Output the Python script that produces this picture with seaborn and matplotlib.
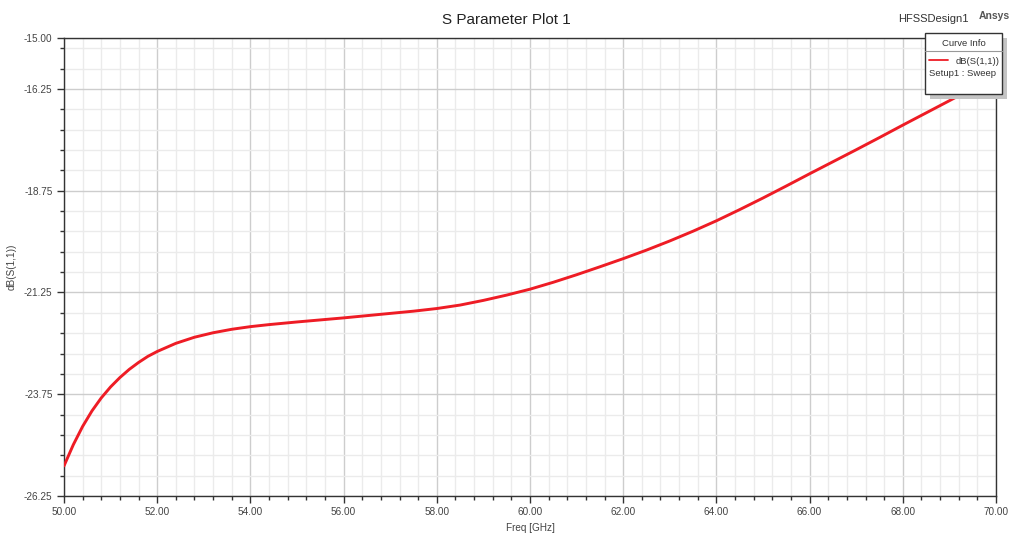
import matplotlib
matplotlib.use("Agg")
import matplotlib.pyplot as plt
import matplotlib.patches as mpatches
import matplotlib.lines as mlines
from matplotlib.ticker import FixedLocator, FormatStrFormatter
import numpy as np
import pandas as pd
import seaborn as sns

# Return loss sweep, dB(S(1,1)) versus frequency
freq_ghz = [50.0, 50.2, 50.4, 50.6, 50.8, 51.0, 51.2, 51.4, 51.6, 51.8,
            52.0, 52.4, 52.8, 53.2, 53.6, 54.0, 54.4, 55.0, 55.5, 56.0,
            56.5, 57.0, 57.5, 58.0, 58.5, 59.0, 59.5, 60.0, 60.5, 61.0,
            61.5, 62.0, 62.5, 63.0, 63.5, 64.0, 64.5, 65.0, 65.5, 66.0,
            66.5, 67.0, 67.5, 68.0, 68.5, 69.0, 69.5, 70.0]
s11_db = [-25.51, -24.99, -24.54, -24.16, -23.84, -23.57, -23.34, -23.14, -22.97, -22.82,
          -22.70, -22.50, -22.35, -22.24, -22.155, -22.09, -22.04, -21.975, -21.925, -21.875,
          -21.82, -21.765, -21.71, -21.645, -21.56, -21.445, -21.315, -21.17, -21.00, -20.815,
          -20.62, -20.42, -20.21, -19.985, -19.745, -19.49, -19.215, -18.93, -18.635, -18.335,
          -18.04, -17.745, -17.445, -17.14, -16.84, -16.54, -16.235, -15.93]

x_major = [50, 52, 54, 56, 58, 60, 62, 64, 66, 68, 70]
y_major = [-15.00, -16.25, -18.75, -21.25, -23.75, -26.25]

sns.set_theme(style="white")
plt.rcParams["font.family"] = ["Liberation Sans", "DejaVu Sans"]

fig = plt.figure(figsize=(10.11, 5.35), dpi=100)
ax = fig.add_axes([64 / 1011, 1 - 496 / 535, (996 - 64) / 1011, (496 - 38) / 535])

df = pd.DataFrame({"Freq [GHz]": freq_ghz, "dB(S(1,1))": s11_db})
sns.lineplot(data=df, x="Freq [GHz]", y="dB(S(1,1))", ax=ax,
             color="#ee1c25", linewidth=2.1, zorder=5)

ax.set_xlim(50, 70)
ax.set_ylim(-26.25, -15.0)

ax.xaxis.set_major_locator(FixedLocator(x_major))
ax.xaxis.set_minor_locator(FixedLocator(np.arange(50, 70.001, 0.4)))
ax.yaxis.set_major_locator(FixedLocator(y_major))
ax.yaxis.set_minor_locator(FixedLocator(np.arange(-26.25, -15.0, 0.5)))
ax.xaxis.set_major_formatter(FormatStrFormatter("%.2f"))
ax.yaxis.set_major_formatter(FormatStrFormatter("%.2f"))

ax.grid(True, which="minor", color="#ebebeb", linewidth=1.0, zorder=0)
ax.grid(True, which="major", color="#cdcdcd", linewidth=1.0, zorder=1)
ax.set_axisbelow(True)

ax.tick_params(axis="both", which="major", direction="out", length=5,
               width=1.0, color="#333333", labelsize=7.2, labelcolor="#444444",
               pad=3.2, left=True, bottom=True)
ax.tick_params(axis="both", which="minor", direction="out", length=3,
               width=1.0, color="#333333", left=True, bottom=True)

for side in ["left", "bottom", "top", "right"]:
    ax.spines[side].set_visible(True)
    ax.spines[side].set_color("#333333")
    ax.spines[side].set_linewidth(1.0)

ax.set_xlabel("Freq [GHz]", fontsize=7.2, color="#444444", labelpad=4)
ax.set_ylabel("dB(S(1,1))", fontsize=7.2, color="#444444")
ax.yaxis.set_label_coords(-0.0505, 0.5)

fig.text(506 / 1011, 1 - 20.5 / 535, "S Parameter Plot 1", ha="center",
         va="center", fontsize=11, color="#222222")
fig.text(898 / 1011, 1 - 19 / 535, "HFSSDesign1", ha="left", va="center",
         fontsize=8, color="#333333")
fig.text(979 / 1011, 1 - 16 / 535, "Ansys", ha="left", va="center",
         fontsize=7.5, fontweight="bold", color="#555555")


# Curve info box drawn on top of the plot area
def fx(px):
    return px / 1011


def fy(py):
    return 1 - py / 535


box_l, box_r, box_t, box_b = 925, 1002, 33, 94
shadow = mpatches.Rectangle((fx(box_l + 5), fy(box_b + 5)),
                            fx(box_r - box_l), fy(box_t) - fy(box_b),
                            transform=fig.transFigure, facecolor="#c4c4c4",
                            edgecolor="none", zorder=20)
box = mpatches.Rectangle((fx(box_l), fy(box_b)), fx(box_r - box_l),
                         fy(box_t) - fy(box_b), transform=fig.transFigure,
                         facecolor="white", edgecolor="#333333",
                         linewidth=1.0, zorder=21)
fig.add_artist(shadow)
fig.add_artist(box)
fig.add_artist(mlines.Line2D([fx(box_l), fx(box_r)], [fy(51), fy(51)],
                             transform=fig.transFigure, color="#999999",
                             linewidth=0.8, zorder=22))
fig.text(fx((box_l + box_r) / 2), fy(43.5), "Curve Info", ha="center",
         va="center", fontsize=6.8, color="#333333", zorder=23)
fig.add_artist(mlines.Line2D([fx(929), fx(948)], [fy(60), fy(60)],
                             transform=fig.transFigure, color="#ee1c25",
                             linewidth=1.3, zorder=23))
fig.text(fx(1000), fy(61), "dB(S(1,1))", ha="right", va="center",
         fontsize=6.8, color="#333333", zorder=23)
fig.text(fx(929), fy(74), "Setup1 : Sweep", ha="left", va="center",
         fontsize=6.8, color="#333333", zorder=23)

fig.savefig("out.png", dpi=100)
